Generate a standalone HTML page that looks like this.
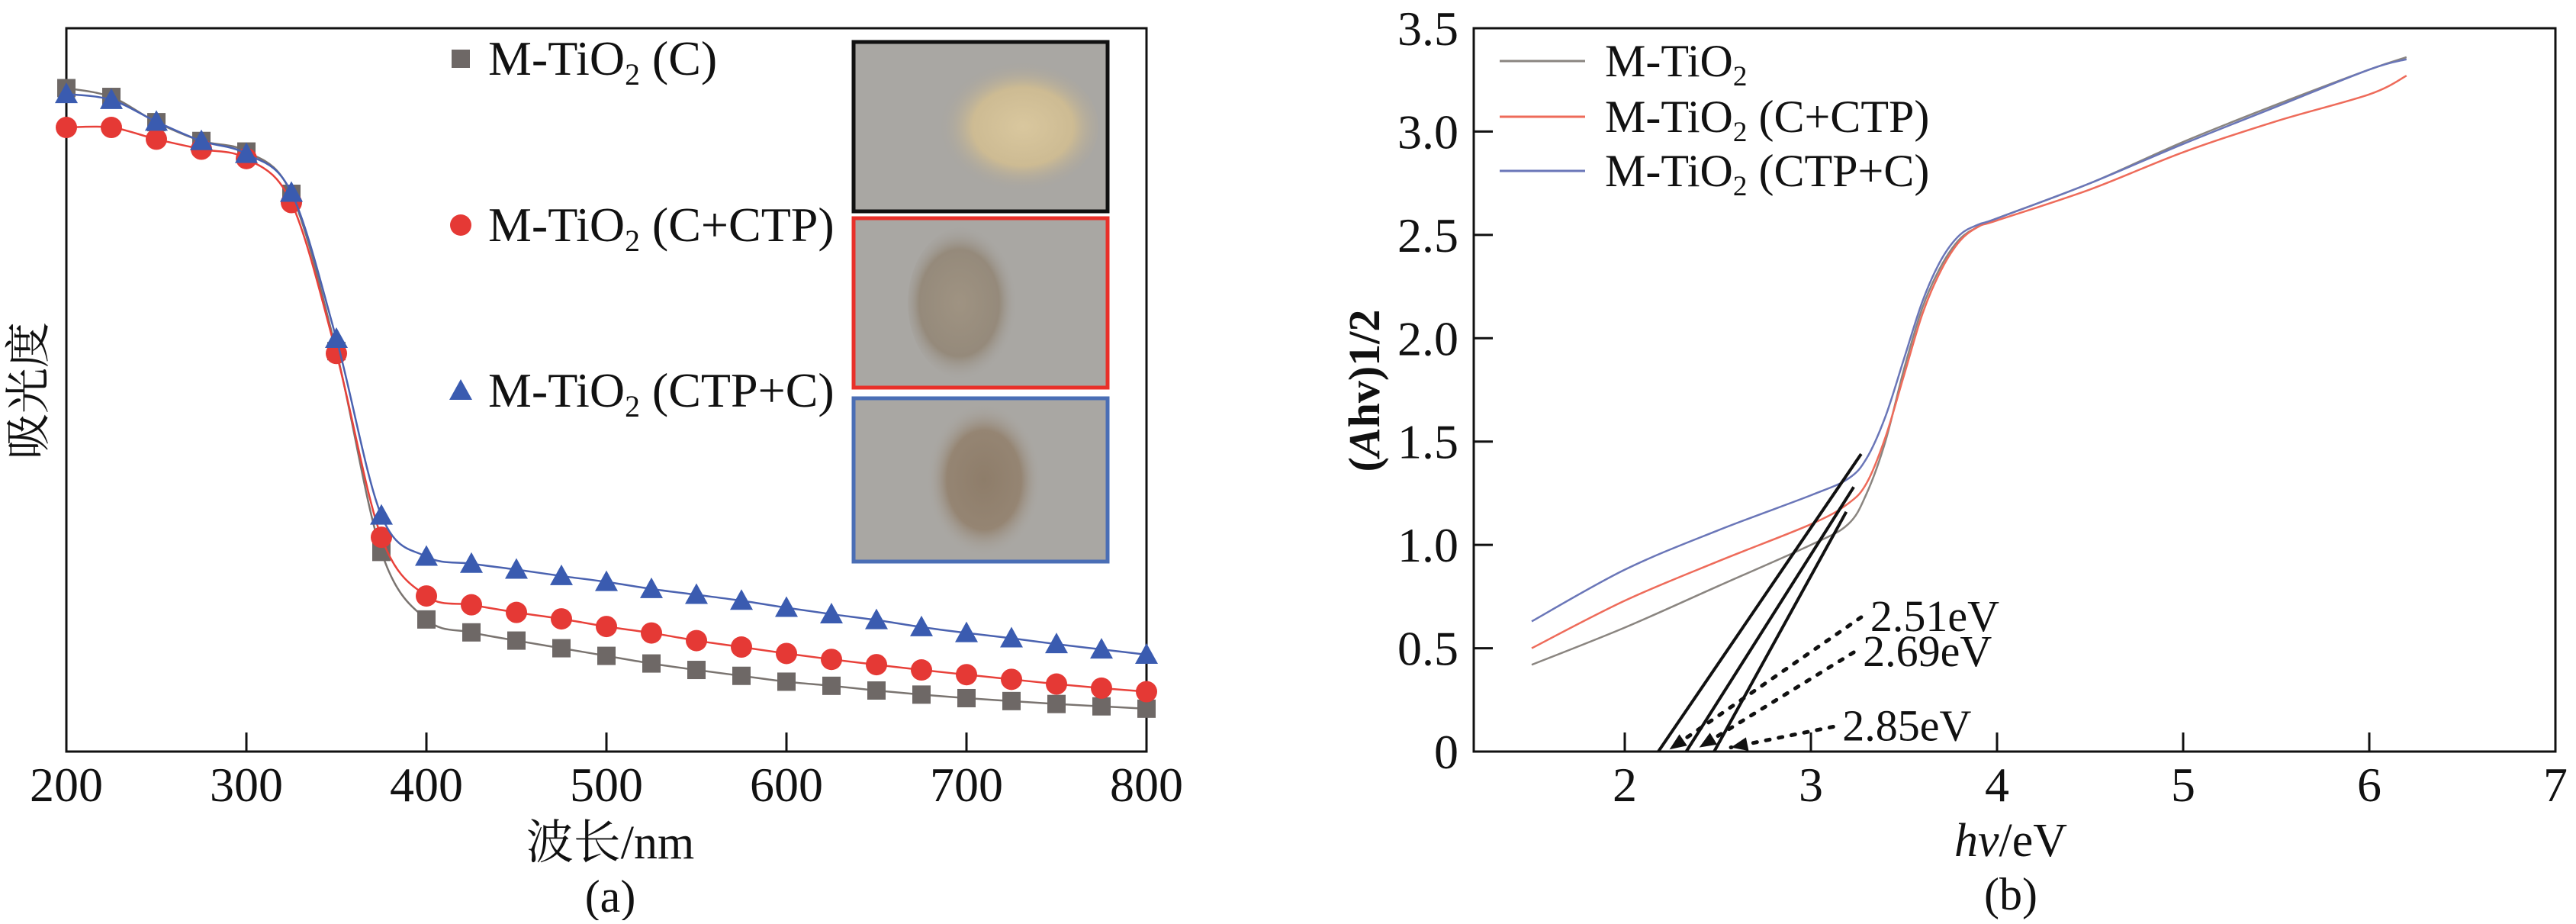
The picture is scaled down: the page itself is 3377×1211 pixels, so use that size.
<!DOCTYPE html>
<html><head><meta charset="utf-8"><style>
html,body{margin:0;padding:0;background:#fff;}
svg, svg text{font-family:"Liberation Serif","Noto Serif CJK SC",serif;}
</style></head><body>
<svg id="svg" width="3377" height="1206" viewBox="0 0 3377 1206" xmlns="http://www.w3.org/2000/svg" font-family="'Liberation Serif','Noto Serif CJK SC',serif">
<defs>
<radialGradient id="p1" cx="0.55" cy="0.5" r="0.5"><stop offset="0" stop-color="#d9c79e"/><stop offset="0.6" stop-color="#cdbb93"/><stop offset="1" stop-color="#a8a49e" stop-opacity="0"/></radialGradient>
<radialGradient id="p2" cx="0.45" cy="0.5" r="0.5"><stop offset="0" stop-color="#9f9382"/><stop offset="0.7" stop-color="#958a7b"/><stop offset="1" stop-color="#a5a29e" stop-opacity="0"/></radialGradient>
<radialGradient id="p3" cx="0.5" cy="0.5" r="0.5"><stop offset="0" stop-color="#8e7d6a"/><stop offset="0.65" stop-color="#958573"/><stop offset="1" stop-color="#aaa7a2" stop-opacity="0"/></radialGradient>
</defs>
<g id="left"></g>
<g id="right"></g>
</svg>
<script>
// ---------- Chart (a) data ----------
const wavelengths = [200,225,250,275,300,325,350,375,400,425,450,475,500,525,550,575,600,625,650,675,700,725,750,775,800];
const absC = [1130,1115,1072,1040,1022,950,682,340,225,203,189,176,163,150,139,129,119,112,104,97,91,86,81,77,73];
const absCCTP = [1063,1063,1043,1026,1010,935,678,365,265,250,237,226,213,202,189,178,167,157,148,139,131,123,115,108,102];
const absCTPC = [1120,1110,1073,1040,1018,952,703,402,332,320,310,299,289,277,267,257,245,234,224,212,202,193,183,174,165];
const xTicksA = [200,300,400,500,600,700,800];
const legendA = ["M-TiO2 (C)","M-TiO2 (C+CTP)","M-TiO2 (CTP+C)"];

// ---------- Chart (b) data ----------
const energy = [1.5,2.0,2.5,3.0,3.2,3.3,3.4,3.5,3.6,3.7,3.8,3.9,4.0,4.5,5.0,5.5,6.0,6.2];
const taucM = [0.42,0.60,0.80,1.00,1.10,1.25,1.50,1.85,2.15,2.35,2.48,2.54,2.58,2.75,2.95,3.13,3.30,3.36];
const taucCCTP = [0.50,0.73,0.92,1.10,1.20,1.30,1.52,1.82,2.12,2.33,2.47,2.54,2.57,2.72,2.90,3.05,3.18,3.27];
const taucCTPC = [0.63,0.88,1.07,1.24,1.32,1.42,1.62,1.90,2.18,2.38,2.50,2.55,2.58,2.75,2.94,3.12,3.30,3.35];
const tangentStart = [[2.18,0],[2.33,0],[2.48,0]];
const tangentEnd = [[3.27,1.44],[3.23,1.28],[3.19,1.16]];
const gapLabels = ["2.51eV","2.69eV","2.85eV"];
const arrowFrom = [[3.27,0.65],[3.23,0.48],[3.12,0.12]];
const arrowTo = [[2.24,0.01],[2.40,0.02],[2.57,0.02]];
const xTicksB = [2,3,4,5,6,7];
const yTicksB = [0,0.5,1.0,1.5,2.0,2.5,3.0,3.5];
const yTickLabelsB = ["0","0.5","1.0","1.5","2.0","2.5","3.0","3.5"];
const legendB = ["M-TiO2","M-TiO2 (C+CTP)","M-TiO2 (CTP+C)"];

const NS="http://www.w3.org/2000/svg";
const FF="'Liberation Serif','Noto Serif CJK SC',serif";
function mk(tag,parent,attrs){const e=document.createElementNS(NS,tag);for(const k in attrs)e.setAttribute(k,attrs[k]);if(tag==='text')e.setAttribute('font-family',FF);parent.appendChild(e);return e;}
function smooth(pts){let d="M"+pts[0][0]+","+pts[0][1];for(let i=0;i<pts.length-1;i++){const p0=pts[Math.max(0,i-1)],p1=pts[i],p2=pts[i+1],p3=pts[Math.min(pts.length-1,i+2)];const c1x=p1[0]+(p2[0]-p0[0])/6,c1y=p1[1]+(p2[1]-p0[1])/6,c2x=p2[0]-(p3[0]-p1[0])/6,c2y=p2[1]-(p3[1]-p1[1])/6;d+=" C"+c1x+","+c1y+" "+c2x+","+c2y+" "+p2[0]+","+p2[1];}return d;}
function subText(parent,x,y,str,size,anchor){const t=mk('text',parent,{x:x,y:y,'font-size':size,fill:'#111'});if(anchor)t.setAttribute('text-anchor',anchor);
 const i=str.indexOf('TiO2');if(i<0){t.textContent=str;return t;}
 const a=mk('tspan',t,{});a.textContent=str.slice(0,i+3);
 const s=mk('tspan',t,{'font-size':size*0.62,dy:size*0.2});s.textContent='2';
 const b=mk('tspan',t,{dy:-size*0.2});b.textContent=str.slice(i+4);return t;}

// ===== Chart (a) =====
const L=document.getElementById('left');
const ax={x0:87,x1:1503,y0:985,y1:37};
const sxA=v=>ax.x0+(v-200)/600*(ax.x1-ax.x0);
const syA=v=>ax.y0-v/1232*(ax.y0-ax.y1);
let fr=mk('rect',L,{x:ax.x0,y:ax.y1,width:ax.x1-ax.x0,height:ax.y0-ax.y1,fill:'none',stroke:'#111','stroke-width':3});

xTicksA.forEach(t=>{const X=sxA(t);const l=mk('line',L,{x1:X,x2:X,y1:ax.y0,y2:ax.y0-25,stroke:'#111','stroke-width':3});
 
 const tx=mk('text',L,{x:X,y:1050,'font-size':64,'text-anchor':'middle',fill:'#111'});tx.textContent=t;
 });
let t1=mk('text',L,{x:800,y:1125,'font-size':62,'text-anchor':'middle',fill:'#111'});t1.textContent='波长/nm';

let t2=mk('text',L,{x:800,y:1195,'font-size':60,'text-anchor':'middle',fill:'#111'});t2.textContent='(a)';

let t3=mk('text',L,{x:0,y:0,'font-size':60,'text-anchor':'middle',fill:'#111',transform:'translate(58,512) rotate(-90)'});t3.textContent='吸光度';


const seriesA=[{d:absC,line:'#7a7470',fill:'#6e6866',m:'sq'},{d:absCCTP,line:'#e8413a',fill:'#e53935',m:'ci'},{d:absCTPC,line:'#4a62b0',fill:'#3a5bb0',m:'tr'}];
function marker(g,type,X,Y,fill){let e;
 if(type==='sq')e=mk('rect',g,{x:X-12,y:Y-12,width:24,height:24,fill:fill});
 else if(type==='ci')e=mk('ellipse',g,{cx:X,cy:Y,rx:14,ry:14,fill:fill});
 else e=mk('polygon',g,{points:(X)+','+(Y-15)+' '+(X-15)+','+(Y+12)+' '+(X+15)+','+(Y+12),fill:fill});
 return e;}
seriesA.forEach((s,si)=>{const g=mk('g',L,{});
 const pts=wavelengths.map((w,i)=>[sxA(w),syA(s.d[i])]);
 const p=mk('path',g,{d:smooth(pts),fill:'none',stroke:s.line,'stroke-width':2.5});
 
 pts.forEach(q=>{const m=marker(g,s.m,q[0],q[1],s.fill);});});
const legYs=[77,295,512];
legendA.forEach((n,i)=>{const m=marker(L,seriesA[i].m,604,legYs[i],seriesA[i].fill);
 
 const t=subText(L,640,legYs[i]+21,n,64);});
const photos=[{y:55,h:222,c:'#111',g:'p1'},{y:286,h:222,c:'#e8302a',g:'p2'},{y:522,h:214,c:'#4a6eb5',g:'p3'}];
photos.forEach((p,i)=>{const g=mk('g',L,{});
 mk('rect',g,{x:1119,y:p.y,width:333,height:p.h,fill:'#a9a7a3',stroke:p.c,'stroke-width':5});
 mk('ellipse',g,{cx:i===0?1330:i===1?1265:1290,cy:p.y+p.h*0.5,rx:i===0?110:75,ry:i===0?85:100,fill:'url(#'+p.g+')'});});

// ===== Chart (b) =====
const R=document.getElementById('right');
const bx={x0:1932,x1:3350,y0:985,y1:37};
const xminB=2-(2130-1932)/244;
const sxB=v=>bx.x0+(v-xminB)/(7-xminB)*(bx.x1-bx.x0);
const syB=v=>bx.y0-v/3.5*(bx.y0-bx.y1);
fr=mk('rect',R,{x:bx.x0,y:bx.y1,width:bx.x1-bx.x0,height:bx.y0-bx.y1,fill:'none',stroke:'#111','stroke-width':3});

xTicksB.forEach(t=>{const X=sxB(t);if(t<7){const l=mk('line',R,{x1:X,x2:X,y1:bx.y0,y2:bx.y0-25,stroke:'#111','stroke-width':3});
 }
 const tx=mk('text',R,{x:X,y:1050,'font-size':64,'text-anchor':'middle',fill:'#111'});tx.textContent=t;
 });
yTicksB.forEach((t,i)=>{const Y=syB(t);if(i>0&&i<yTicksB.length-1){const l=mk('line',R,{x1:bx.x0,x2:bx.x0+25,y1:Y,y2:Y,stroke:'#111','stroke-width':3});
 }
 const tx=mk('text',R,{x:1912,y:Y+22,'font-size':64,'text-anchor':'end',fill:'#111'});tx.textContent=yTickLabelsB[i];
 });
let yt=mk('text',R,{x:0,y:0,'font-size':58,'text-anchor':'middle',fill:'#111','font-weight':'bold',transform:'translate(1808,512) rotate(-90)'});

let a1=mk('tspan',yt,{});a1.textContent='(';let a2=mk('tspan',yt,{'font-style':'italic'});a2.textContent='A';let a3=mk('tspan',yt,{});a3.textContent='hv)1/2';
let xt=mk('text',R,{x:2636,y:1122,'font-size':62,'text-anchor':'middle',fill:'#111'});

let b1=mk('tspan',xt,{'font-style':'italic'});b1.textContent='hv';let b2=mk('tspan',xt,{});b2.textContent='/eV';
let pb=mk('text',R,{x:2636,y:1192,'font-size':60,'text-anchor':'middle',fill:'#111'});pb.textContent='(b)';


const seriesB=[{d:taucM,c:'#8a8580'},{d:taucCCTP,c:'#ee6b5a'},{d:taucCTPC,c:'#6a76b8'}];
seriesB.forEach((s,si)=>{const pts=energy.map((e,i)=>[sxB(e),syB(s.d[i])]);
 const p=mk('path',R,{d:smooth(pts),fill:'none',stroke:s.c,'stroke-width':2.5});
 });
tangentStart.forEach((s,i)=>{const e=tangentEnd[i];
 const l=mk('line',R,{x1:sxB(s[0]),y1:syB(s[1]),x2:sxB(e[0]),y2:syB(e[1]),stroke:'#111','stroke-width':4});
 });
arrowFrom.forEach((f,i)=>{const t=arrowTo[i];const X1=sxB(f[0]),Y1=syB(f[1]),X2=sxB(t[0]),Y2=syB(t[1]);
 const l=mk('line',R,{x1:X1,y1:Y1,x2:X2,y2:Y2,stroke:'#111','stroke-width':5,'stroke-dasharray':'5 12','stroke-linecap':'round'});
 
 const ang=Math.atan2(Y2-Y1,X2-X1),len=22,w=9;
 const bxp=X2-len*Math.cos(ang),byp=Y2-len*Math.sin(ang);
 const h=mk('polygon',R,{points:X2+','+Y2+' '+(bxp-w*Math.sin(ang))+','+(byp+w*Math.cos(ang))+' '+(bxp+w*Math.sin(ang))+','+(byp-w*Math.cos(ang)),fill:'#111'});
 
 const tx=mk('text',R,{x:X1+12,y:Y1+18,'font-size':58,fill:'#111'});tx.textContent=gapLabels[i];
 });
const legBY=[80,153,224];
legendB.forEach((n,i)=>{const l=mk('line',R,{x1:1966,x2:2078,y1:legBY[i],y2:legBY[i],stroke:seriesB[i].c,'stroke-width':3});
 
 const t=subText(R,2104,legBY[i]+20,n,60);});
</script>
</body></html>
